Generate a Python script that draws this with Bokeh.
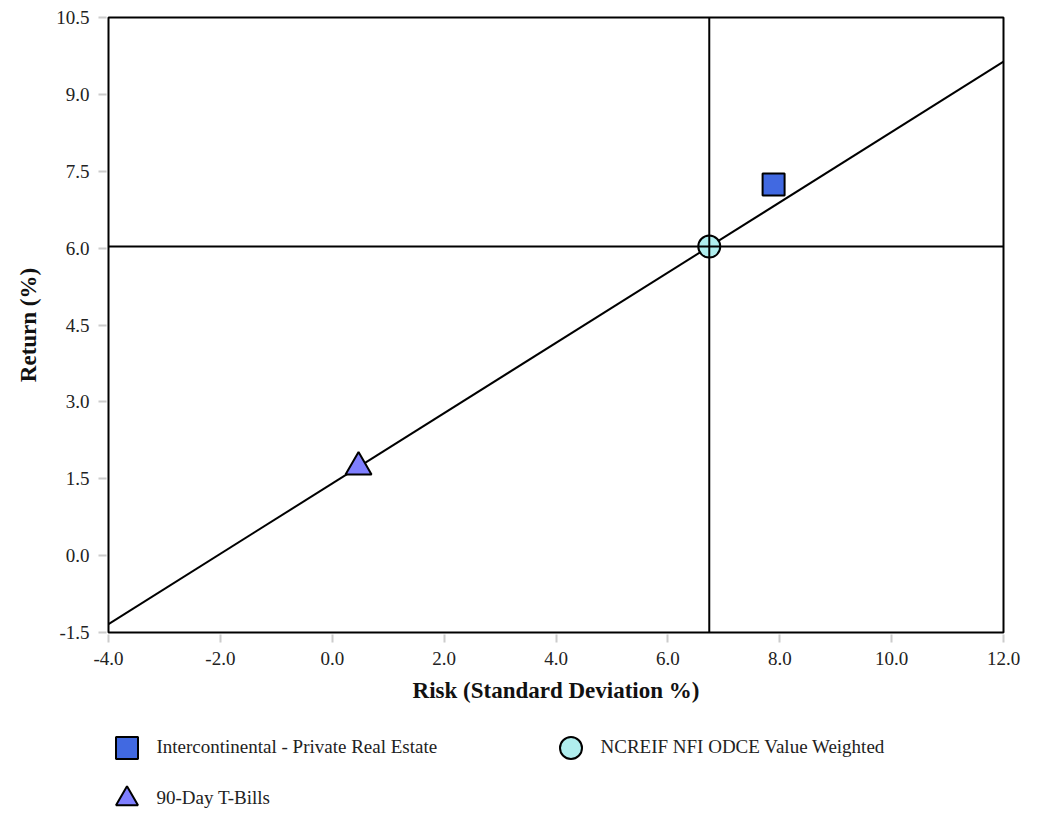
from bokeh.plotting import figure
from bokeh.layouts import column
from bokeh.models import (ColumnDataSource, Span, Legend, LegendItem, FixedTicker,
                          PrintfTickFormatter, Range1d)
from bokeh.embed import file_html
from bokeh.resources import INLINE

# ---- data ----
names = ["Intercontinental - Private Real Estate", "NCREIF NFI ODCE Value Weighted", "90-Day T-Bills"]
risk = [7.89, 6.74, 0.47]
ret = [7.24, 6.03, 1.73]
markers = ["square", "circle", "triangle"]
colors = ["#4169e1", "#b0eeee", "#7f7fff"]

x_ticks = [-4.0, -2.0, 0.0, 2.0, 4.0, 6.0, 8.0, 10.0, 12.0]
y_ticks = [-1.5, 0.0, 1.5, 3.0, 4.5, 6.0, 7.5, 9.0, 10.5]

FONT = "Liberation Serif"

p = figure(width=1024, height=712, output_backend="svg", toolbar_location=None,
           x_range=Range1d(-4, 12), y_range=Range1d(-1.5, 10.5),
           min_border_left=108, min_border_right=21, min_border_top=17, min_border_bottom=80)
p.grid.visible = False
p.outline_line_color = "black"
p.outline_line_width = 2

for ax, ticks in ((p.xaxis[0], x_ticks), (p.yaxis[0], y_ticks)):
    ax.ticker = FixedTicker(ticks=ticks)
    ax.formatter = PrintfTickFormatter(format="%.1f")
    ax.axis_line_color = None
    ax.major_tick_line_color = "#cccccc"
    ax.major_tick_line_width = 2
    ax.major_tick_out = 10
    ax.major_tick_in = -2
    ax.minor_tick_line_color = None
    ax.major_label_text_font = FONT
    ax.major_label_text_font_size = "19px"
    ax.major_label_text_color = "#222222"
    ax.axis_label_text_font = FONT
    ax.axis_label_text_font_size = "23px"
    ax.axis_label_text_font_style = "bold"
    ax.axis_label_text_color = "#111111"

p.xaxis.axis_label = "Risk (Standard Deviation %)"
p.yaxis.axis_label = "Return (%)"
p.xaxis.major_label_standoff = 9
p.xaxis.axis_label_standoff = 10
p.yaxis.major_label_standoff = 9
p.yaxis.axis_label_standoff = 12

# benchmark crosshairs
bx, by = risk[1], ret[1]
p.add_layout(Span(location=bx, dimension="height", line_color="black", line_width=2))
p.add_layout(Span(location=by, dimension="width", line_color="black", line_width=2))

# capital market line through T-Bills and benchmark
rx, ry = risk[2], ret[2]
slope = (by - ry) / (bx - rx)
lx = [-4.0, 12.0]
ly = [ry + slope * (v - rx) for v in lx]
p.line(lx, ly, line_color="black", line_width=2)

for i in range(3):
    src = ColumnDataSource(dict(x=[risk[i]], y=[ret[i]]))
    p.scatter("x", "y", source=src, marker=markers[i], size=22 if i != 2 else 26,
              fill_color=colors[i], line_color="black", line_width=2)

# ---- legend panel ----
lf = figure(width=1024, height=99, output_backend="svg", toolbar_location=None,
            x_range=Range1d(0, 1), y_range=Range1d(0, 1),
            min_border_left=0, min_border_right=0, min_border_top=0, min_border_bottom=0)
lf.axis.visible = False
lf.grid.visible = False
lf.outline_line_color = None

leg_renderers = []
for i in range(3):
    src = ColumnDataSource(dict(x=[risk[i]], y=[ret[i]]))
    r = lf.scatter("x", "y", source=src, marker=markers[i], size=22,
                   fill_color=colors[i], line_color="black", line_width=2, visible=False)
    leg_renderers.append(r)

positions = [(-9.5, 36.5), (434.5, 36.5), (-9.5, -14.5)]
for i in range(3):
    lg = Legend(items=[LegendItem(label=names[i], renderers=[leg_renderers[i]])],
                location=positions[i], orientation="horizontal",
                glyph_width=55, glyph_height=55, label_standoff=3, padding=0, margin=0,
                spacing=0, border_line_color=None, background_fill_alpha=0,
                label_text_font=FONT, label_text_font_size="19px", label_text_color="#222222")
    lf.add_layout(lg, "center")

layout = column(p, lf, spacing=0)
open("out.html", "w").write(file_html(layout, INLINE))
